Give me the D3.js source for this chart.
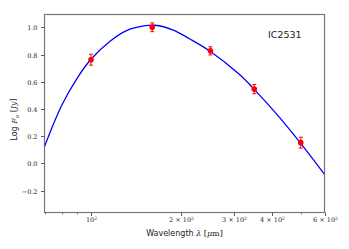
<!DOCTYPE html>
<html>
<head>
<meta charset="utf-8">
<script src="https://cdn.jsdelivr.net/npm/d3@7"></script>
<style>
  body { margin: 0; background: #fff; }
  svg { display: block; }
  .tick-label { font-family: "DejaVu Serif", serif; font-size: 6.5px; fill: #222; }
  .axis-label { font-family: "DejaVu Sans", sans-serif; font-size: 8px; fill: #222; }
</style>
</head>
<body>
<svg id="sed" width="349" height="249"></svg>
<script>
// Observed photometry (Herschel bands)
var wavelengths = [100, 160, 250, 350, 500];
var logFlux = [0.762, 1.0, 0.827, 0.546, 0.153];
var logFluxErr = [0.04, 0.032, 0.03, 0.034, 0.04];

// Fitted curve
var fitWavelengths = [70, 80, 90, 100, 116, 132, 150, 163, 188, 213, 248, 312, 348, 413, 497, 600];
var fitLogFlux = [0.125, 0.43, 0.627, 0.765, 0.90, 0.978, 1.01, 1.015, 0.98, 0.916, 0.828, 0.655, 0.55, 0.37, 0.155, -0.08];

// Tick values and labels
var yTicks = [-0.2, 0.0, 0.2, 0.4, 0.6, 0.8, 1.0];
var xMajorTicks = [100, 200, 300, 400, 600];
var xMajorLabels = ["", "2 × ", "3 × ", "4 × ", "6 × "];
var xMinorTicks = [70, 80, 90, 500];

var svg = d3.select("#sed"),
    plotLeft = 44.5, plotRight = 324.5, plotTop = 14.5, plotBottom = 212.5;

var x = d3.scaleLog().domain([70, 600]).range([plotLeft, plotRight]),
    y = d3.scaleLinear().domain([-0.36, 1.094]).range([plotBottom, plotTop]);

// Рамка
svg.append("rect")
    .attr("x", plotLeft).attr("y", plotTop)
    .attr("width", plotRight - plotLeft).attr("height", plotBottom - plotTop)
    .attr("fill", "none")
    .attr("stroke", "#777")
    .attr("stroke-width", 1.2);

// Y ticks
var gy = svg.append("g");
yTicks.forEach(function (v) {
    var yy = Math.round(y(v)) + 0.5;
    gy.append("line")
        .attr("x1", plotLeft).attr("x2", plotLeft - 3.5)
        .attr("y1", yy).attr("y2", yy)
        .attr("stroke", "#333").attr("stroke-width", 0.8);
    gy.append("text")
        .attr("class", "tick-label")
        .attr("x", plotLeft - 7).attr("y", yy)
        .attr("dy", "0.35em")
        .attr("text-anchor", "end")
        .text(d3.format(".1f")(v).replace("-", "\u2212"));
});

// X ticks (log)
var gx = svg.append("g");
xMajorTicks.forEach(function (v, i) {
    var xx = Math.round(x(v)) + 0.5;
    gx.append("line")
        .attr("x1", xx).attr("x2", xx)
        .attr("y1", plotBottom).attr("y2", plotBottom + 3.5)
        .attr("stroke", "#333").attr("stroke-width", 0.8);
    var t = gx.append("text")
        .attr("class", "tick-label")
        .attr("x", xx).attr("y", plotBottom + 9)
        .attr("text-anchor", "middle");
    t.append("tspan").text(xMajorLabels[i] + "10");
    t.append("tspan").attr("dy", "-0.4em").attr("font-size", "4.5px").text("2");
});
xMinorTicks.forEach(function (v) {
    var xx = Math.round(x(v)) + 0.5;
    gx.append("line")
        .attr("x1", xx).attr("x2", xx)
        .attr("y1", plotBottom).attr("y2", plotBottom + 2)
        .attr("stroke", "#333").attr("stroke-width", 0.6);
});

// Axis labels
var xl = svg.append("text")
    .attr("class", "axis-label")
    .attr("x", (plotLeft + plotRight) / 2).attr("y", 235.5)
    .attr("text-anchor", "middle");
xl.append("tspan").text("Wavelength ");
xl.append("tspan").attr("font-family", "DejaVu Serif, serif").attr("font-style", "italic").text("λ");
xl.append("tspan").attr("font-family", "DejaVu Serif, serif").text(" [");
xl.append("tspan").attr("font-family", "DejaVu Serif, serif").attr("font-style", "italic").text("μ");
xl.append("tspan").attr("font-family", "DejaVu Serif, serif").text("m]");

var yl = svg.append("text")
    .attr("class", "axis-label")
    .attr("transform", "translate(17," + ((plotTop + plotBottom) / 2 + 6) + ") rotate(-90)")
    .attr("text-anchor", "middle");
yl.append("tspan").text("Log ");
yl.append("tspan").attr("font-family", "DejaVu Serif, serif").attr("font-style", "italic").text("F");
yl.append("tspan").attr("font-family", "DejaVu Serif, serif").attr("font-style", "italic")
    .attr("font-size", "5.5px").attr("dy", "0.3em").text("ν");
yl.append("tspan").attr("font-family", "DejaVu Serif, serif").attr("dy", "-0.3em").text(" [");
yl.append("tspan").attr("font-family", "DejaVu Serif, serif").attr("font-style", "italic").text("Jy");
yl.append("tspan").attr("font-family", "DejaVu Serif, serif").text("]");

// Clip to plot area
svg.append("clipPath").attr("id", "clip")
    .append("rect")
    .attr("x", plotLeft).attr("y", plotTop)
    .attr("width", plotRight - plotLeft).attr("height", plotBottom - plotTop);

// Fitted curve
var line = d3.line()
    .x(function (d) { return x(d[0]); })
    .y(function (d) { return y(d[1]); })
    .curve(d3.curveCatmullRom.alpha(0.5));

svg.append("path")
    .datum(d3.zip(fitWavelengths, fitLogFlux))
    .attr("clip-path", "url(#clip)")
    .attr("d", line)
    .attr("fill", "none")
    .attr("stroke", "#0000ff")
    .attr("stroke-width", 1.3);

// Error bars and points
var pts = svg.append("g")
    .selectAll("g")
    .data(d3.zip(wavelengths, logFlux, logFluxErr))
    .enter().append("g");

pts.append("line")
    .attr("x1", function (d) { return x(d[0]); })
    .attr("x2", function (d) { return x(d[0]); })
    .attr("y1", function (d) { return y(d[1] - d[2]); })
    .attr("y2", function (d) { return y(d[1] + d[2]); })
    .attr("stroke", "#ff0000").attr("stroke-width", 1);

[-1, 1].forEach(function (s) {
    pts.append("line")
        .attr("x1", function (d) { return x(d[0]) - 2; })
        .attr("x2", function (d) { return x(d[0]) + 2; })
        .attr("y1", function (d) { return y(d[1] + s * d[2]); })
        .attr("y2", function (d) { return y(d[1] + s * d[2]); })
        .attr("stroke", "#ff0000").attr("stroke-width", 1);
});

pts.append("circle")
    .attr("cx", function (d) { return x(d[0]); })
    .attr("cy", function (d) { return y(d[1]); })
    .attr("r", 2.8)
    .attr("fill", "#ff0000");

// Object name
svg.append("text")
    .attr("x", 268).attr("y", 38)
    .attr("font-family", "DejaVu Sans, sans-serif")
    .attr("font-size", "9.5px")
    .attr("fill", "#222")
    .text("IC2531");
</script>
</body>
</html>
